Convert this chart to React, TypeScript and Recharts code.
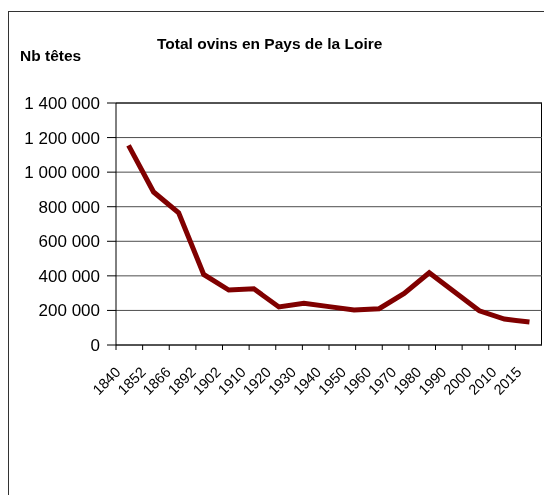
import { LineChart, Line, XAxis, YAxis, CartesianGrid, ReferenceLine } from "recharts";

const years = [
  "1840", "1852", "1866", "1892", "1902", "1910", "1920", "1930", "1940",
  "1950", "1960", "1970", "1980", "1990", "2000", "2010", "2015",
];
const sheep = [
  1155000, 885000, 765000, 408000, 318000, 325000, 220000, 242000, 222000,
  202000, 210000, 298000, 418000, 308000, 198000, 150000, 133000,
];
const yTicks = [0, 200000, 400000, 600000, 800000, 1000000, 1200000, 1400000];

const data = years.map((year, i) => ({ year, value: sheep[i] }));
const boundaries = years.map((_, i) => i).concat(years.length);

const font = "'Liberation Sans', Arial, sans-serif";

const fmt = (v: number) => String(v).replace(/\B(?=(\d{3})+(?!\d))/g, " ");

function YearTick({ x, y, payload }: any) {
  return (
    <g transform={`translate(${x - 7},${y + 22})`}>
      <text
        x={0}
        y={0}
        textAnchor="end"
        transform="rotate(-45)"
        fontSize={14.5}
        fontFamily={font}
        fill="#000"
      >
        {payload.value}
      </text>
    </g>
  );
}

export default function App() {
  return (
    <div
      style={{
        position: "fixed",
        left: 8,
        top: 8,
        width: 536,
        height: 487,
        overflow: "hidden",
        fontFamily: font,
      }}
    >
      <div
        style={{
          position: "absolute",
          left: 0,
          top: 3,
          width: 700,
          height: 700,
          borderLeft: "1.5px solid #333",
          borderTop: "1.5px solid #333",
        }}
      />
      <div
        style={{
          position: "absolute",
          left: 149,
          top: 28,
          fontWeight: "bold",
          fontSize: 15.5,
          lineHeight: "15.5px",
          whiteSpace: "nowrap",
        }}
      >
        Total ovins en Pays de la Loire
      </div>
      <div
        style={{
          position: "absolute",
          left: 12,
          top: 39.6,
          fontWeight: "bold",
          fontSize: 15.5,
          lineHeight: "15.5px",
        }}
      >
        Nb têtes
      </div>
      {/* plot area right edge */}
      <div
        style={{
          position: "absolute",
          left: 533,
          top: 95,
          width: 0,
          height: 242,
          borderLeft: "1.5px solid #000",
        }}
      />
      <div style={{ position: "absolute", left: 0, top: 0 }}>
        <LineChart
          width={536}
          height={400}
          data={data}
          margin={{ top: 95, right: 2, left: 0, bottom: 0 }}
        >
          <CartesianGrid vertical={false} stroke="#4d4d4d" yAxisId="left" />
          <XAxis
            xAxisId="bounds"
            type="number"
            domain={[0, years.length]}
            ticks={boundaries}
            allowDataOverflow
            tickFormatter={() => ""}
            tickSize={5}
            height={6}
            axisLine={{ stroke: "#000" }}
            tickLine={{ stroke: "#000" }}
          />
          <XAxis
            xAxisId="cat"
            dataKey="year"
            scale="band"
            height={57}
            interval={0}
            axisLine={false}
            tickLine={false}
            tickSize={0}
            tickMargin={0}
            tick={<YearTick />}
          />
          <YAxis
            yAxisId="left"
            width={108}
            domain={[0, 1400000]}
            ticks={yTicks}
            tickFormatter={fmt}
            tickSize={9}
            tickMargin={7}
            axisLine={{ stroke: "#000" }}
            tickLine={{ stroke: "#000" }}
            tick={{ fontSize: 17, fill: "#000", fontFamily: font }}
          />
          <ReferenceLine
            xAxisId="bounds"
            yAxisId="left"
            y={1400000}
            stroke="#000"
            ifOverflow="visible"
          />
          <Line
            xAxisId="cat"
            yAxisId="left"
            type="linear"
            dataKey="value"
            stroke="#800000"
            strokeWidth={5}
            dot={false}
            isAnimationActive={false}
          />
        </LineChart>
      </div>
    </div>
  );
}
